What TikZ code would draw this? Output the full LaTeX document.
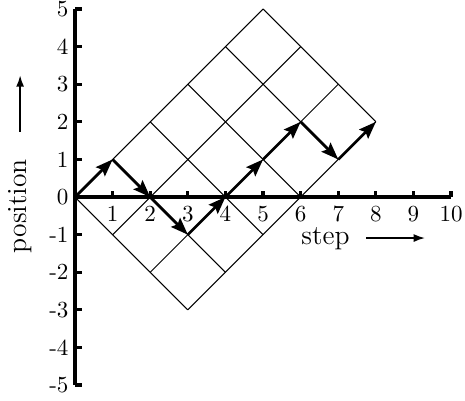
\documentclass[tikz,border=0pt]{standalone}
\usetikzlibrary{arrows.meta}
\begin{document}
\begin{tikzpicture}[x=0.574cm,y=0.574cm,
  axis/.style={line width=1.4pt},
  gridline/.style={line width=0.45pt},
  walk/.style={line width=1.2pt,-{Stealth[length=7.5pt,width=5.5pt,inset=1.2pt]}},
  lbl/.style={font=\large},
  axisarrow/.style={line width=0.8pt,-{Latex[length=5pt,width=3.5pt]}},
  ticklbl/.style={inner sep=1pt}]
\useasboundingbox (-1.995,-5.40) rectangle (10.37,5.24);
% grid (rotated rectangle)
\foreach \k in {0,...,3}
  \draw[gridline] (\k,-\k) -- (\k+5,5-\k);
\foreach \k in {0,...,5}
  \draw[gridline] (\k,\k) -- (\k+3,\k-3);
% axes
\coordinate (O) at (0,0);
\coordinate (xend) at (10,0);
\coordinate (ytop) at (0,5);
\coordinate (ybot) at (0,-5);
\draw[axis] (ybot) -- (ytop);
\draw[axis] (O) -- (xend);
\foreach \y in {-5,...,5}{
  \draw[axis] (0,\y) -- (0.19,\y);
  \node[ticklbl,anchor=east] (yl\y) at (-0.1,\y) {\y};
}
\foreach \x in {1,...,10}{
  \draw[axis] (\x,0) -- (\x,0.17);
  \node[ticklbl] (xl\x) at (\x,-0.45) {\x};
}
% walk
\coordinate (p0) at (0,0);
\coordinate (p1) at (1,1);
\coordinate (p2) at (2,0);
\coordinate (p3) at (3,-1);
\coordinate (p4) at (4,0);
\coordinate (p5) at (5,1);
\coordinate (p6) at (6,2);
\coordinate (p7) at (7,1);
\coordinate (p8) at (8,2);
\draw[walk] (p0) -- (p1);
\draw[walk] (p1) -- (p2);
\draw[walk] (p2) -- (p3);
\draw[walk] (p3) -- (p4);
\draw[walk] (p4) -- (p5);
\draw[walk] (p5) -- (p6);
\draw[walk] (p6) -- (p7);
\draw[walk] (p7) -- (p8);
% axis labels
\node[lbl] (step) at (6.66,-1.12) {step};
\coordinate (sa) at (7.74,-1.09);
\coordinate (sb) at (9.31,-1.09);
\draw[axisarrow] (sa) -- (sb);
\node[lbl,rotate=90] (pos) at (-1.46,-0.24) {position};
\coordinate (pa) at (-1.46,1.73);
\coordinate (pb) at (-1.46,3.24);
\draw[axisarrow] (pa) -- (pb);
\end{tikzpicture}
\end{document}
